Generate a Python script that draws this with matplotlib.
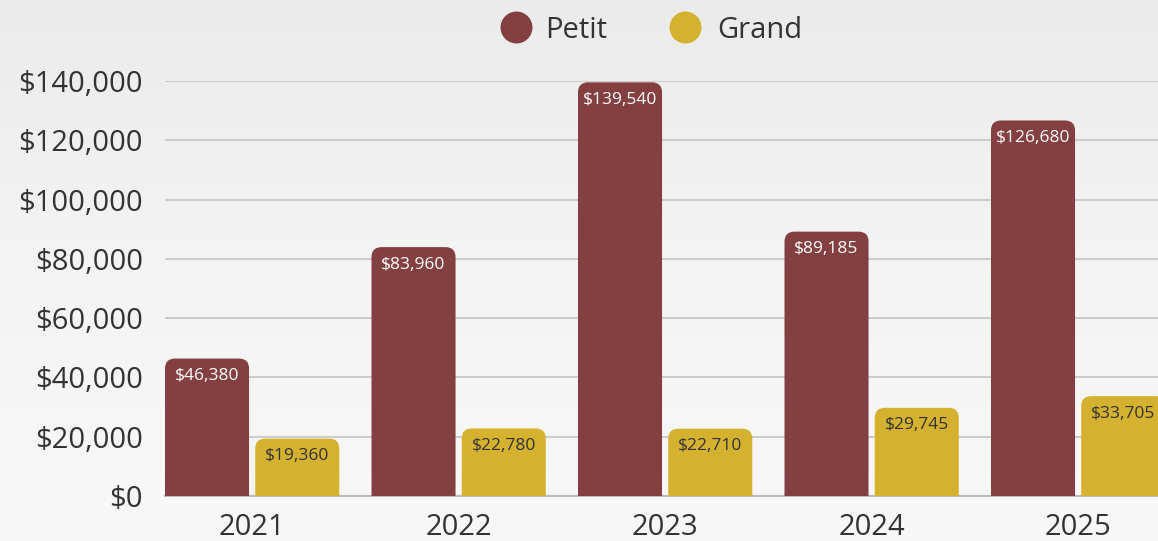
import matplotlib.pyplot as plt
import numpy as np
from matplotlib.patches import FancyBboxPatch
from matplotlib.lines import Line2D

plt.rcParams['font.family'] = ['Open Sans', 'DejaVu Sans']

annees = ['2021', '2022', '2023', '2024', '2025']
petit = [46380, 83960, 139540, 89185, 126680]
grand = [19360, 22780, 22710, 29745, 33705]
series = ['Petit', 'Grand']

c_petit = '#843f40'
c_grand = '#d5b130'
texte = '#333333'

fig = plt.figure(figsize=(11.58, 5.41), dpi=100)

# fond en degrade
fond = fig.add_axes([0, 0, 1, 1], zorder=-10)
grad = np.linspace(0, 1, 256).reshape(-1, 1)
fond.imshow(grad, aspect='auto', cmap=plt.matplotlib.colors.LinearSegmentedColormap.from_list(
    'g', ['#ebebeb', '#f4f4f4', '#f8f8f8']), extent=[0, 1, 0, 1])
fond.axis('off')

ax = fig.add_axes([165 / 1158, 45 / 541, 993 / 1158, 415 / 541])
ax.patch.set_alpha(0)

larg = 0.407
ecart = 0.03
x = np.arange(len(annees))
dx = (larg + ecart) / 2

ax.set_xlim(-dx - larg / 2, -dx - larg / 2 + 993 / 206.5)
ax.set_ylim(0, 140000)

# rayon en pixels -> donnees
rx = 10 / 206.5
ry = 10 / (415 / 140000)

bars_p = ax.bar(x - dx, petit, larg, color=c_petit, alpha=0)
bars_g = ax.bar(x + dx, grand, larg, color=c_grand, alpha=0)

for bars, coul, tcoul in [(bars_p, c_petit, 'white'), (bars_g, c_grand, texte)]:
    for b in bars:
        h = b.get_height()
        p = FancyBboxPatch((b.get_x(), -ry), b.get_width(), h + ry,
                           boxstyle='round,pad=0,rounding_size=%f' % rx,
                           mutation_aspect=ry / rx, facecolor=coul,
                           edgecolor='none', zorder=3)
        ax.add_patch(p)
        ax.text(b.get_x() + b.get_width() / 2, h - 5900, '${:,.0f}'.format(h),
                ha='center', va='center', color=tcoul, fontsize=12.5, zorder=4)

ax.set_yticks(np.arange(0, 140001, 20000))
ax.set_yticklabels(['${:,.0f}'.format(v) for v in np.arange(0, 140001, 20000)])
ax.set_xticks(x)
ax.set_xticklabels(annees)
ax.tick_params(axis='both', length=0, labelsize=21, colors=texte)
ax.tick_params(axis='y', pad=16)
ax.tick_params(axis='x', pad=12)
ax.grid(axis='y', color='#cccccc', linewidth=1.5, zorder=0)
ax.set_axisbelow(True)
for s in ['top', 'right', 'left']:
    ax.spines[s].set_visible(False)
ax.spines['bottom'].set_color('#bbbbbb')
ax.spines['bottom'].set_linewidth(1.5)
ax.spines['bottom'].set_zorder(1)

# legende placee a la main
for nom, c, xm, xt in [(series[0], c_petit, 516, 545), (series[1], c_grand, 685, 717)]:
    fig.add_artist(Line2D([xm / 1158], [1 - 27 / 541], marker='o', markersize=23,
                          markerfacecolor=c, markeredgecolor='none',
                          transform=fig.transFigure))
    fig.text(xt / 1158, 1 - 30 / 541, nom, ha='left', va='center',
             fontsize=21, color=texte)

fig.savefig('out.png', dpi=100)
